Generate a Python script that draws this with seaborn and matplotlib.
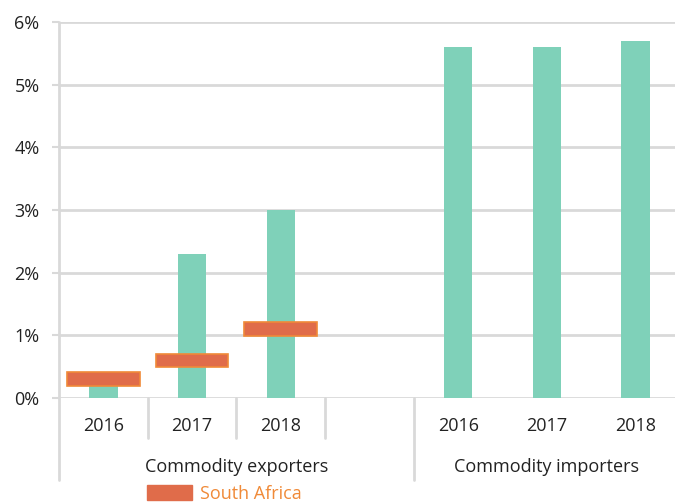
import matplotlib.pyplot as plt
import matplotlib.transforms as mtransforms
from matplotlib.patches import Patch
import pandas as pd
import seaborn as sns

# values (% growth)
groups = ["Commodity exporters", "Commodity importers"]
years = ["2016", "2017", "2018"]
exporters = [0.3, 2.3, 3.0]
importers = [5.6, 5.6, 5.7]
south_africa = [0.3, 0.6, 1.1]
y_ticks = [0, 1, 2, 3, 4, 5, 6]

# slots: three exporter years, one blank slot, three importer years
slots = ["exp_" + y for y in years] + ["gap"] + ["imp_" + y for y in years]
slot_labels = years + [""] + years
df = pd.DataFrame({
    "slot": ["exp_" + y for y in years] + ["imp_" + y for y in years],
    "value": exporters + importers,
})

TEAL = "#7fd1b9"
ORANGE = "#e06c4a"
ORANGE_EDGE = "#f08a38"
GRID = "#d9d9d9"
FS = 13

sns.set_style("white")
plt.rcParams["font.family"] = ["Open Sans", "DejaVu Sans"]

fig = plt.figure(figsize=(6.75, 5.04), dpi=100)
ax = fig.add_axes([59 / 675, 106 / 504, 621 / 675, 376 / 504])

sns.barplot(data=df, x="slot", y="value", order=slots, color=TEAL,
            width=0.32, saturation=1, linewidth=0, ax=ax, zorder=3)

# South Africa markers as thick horizontal bars
sa_x = list(range(len(south_africa)))
ax.bar(sa_x, height=0.22, bottom=[v - 0.11 for v in south_africa], width=0.82,
       color=ORANGE, edgecolor=ORANGE_EDGE, linewidth=1.2, zorder=4)

ax.set_xlim(-0.5, 6.5)
ax.set_ylim(0, 6)
ax.set_yticks(y_ticks)
ax.set_yticklabels([f"{v}%" for v in y_ticks], fontsize=FS, color="#222222")
ax.yaxis.grid(True, color=GRID, linewidth=2, zorder=0)
ax.set_axisbelow(True)
ax.tick_params(axis="y", length=5, width=1.5, color=GRID, pad=9, left=True)

ax.set_xticks(range(len(slots)))
ax.set_xticklabels(slot_labels, fontsize=FS, color="#222222")
ax.tick_params(axis="x", length=0, pad=14)
ax.set_xlabel("")
ax.set_ylabel("")
for s in ax.spines.values():
    s.set_visible(False)

# category divider lines below the axis
trans = mtransforms.blended_transform_factory(ax.transData, ax.transAxes)
ax.plot([-0.5, -0.5], [1, -0.218], transform=trans, color=GRID, lw=2, clip_on=False)
for xb in [0.5, 1.5, 2.5]:
    ax.plot([xb, xb], [0, -0.106], transform=trans, color=GRID, lw=2, clip_on=False)
ax.plot([3.5, 3.5], [0, -0.218], transform=trans, color=GRID, lw=2, clip_on=False)

# group labels
ax.text(1.5, -0.184, groups[0], transform=trans, ha="center", va="center",
        fontsize=FS, color="#222222")
ax.text(5.0, -0.184, groups[1], transform=trans, ha="center", va="center",
        fontsize=FS, color="#222222")

fig.legend(handles=[Patch(facecolor=ORANGE, edgecolor=ORANGE)], labels=["South Africa"],
           loc="center", bbox_to_anchor=(0.332, 0.02), frameon=False,
           fontsize=FS, labelcolor=ORANGE_EDGE, handlelength=2.5,
           handleheight=0.9, handletextpad=0.45, borderpad=0.1)

fig.savefig("out.png", dpi=100)
plt.close(fig)
